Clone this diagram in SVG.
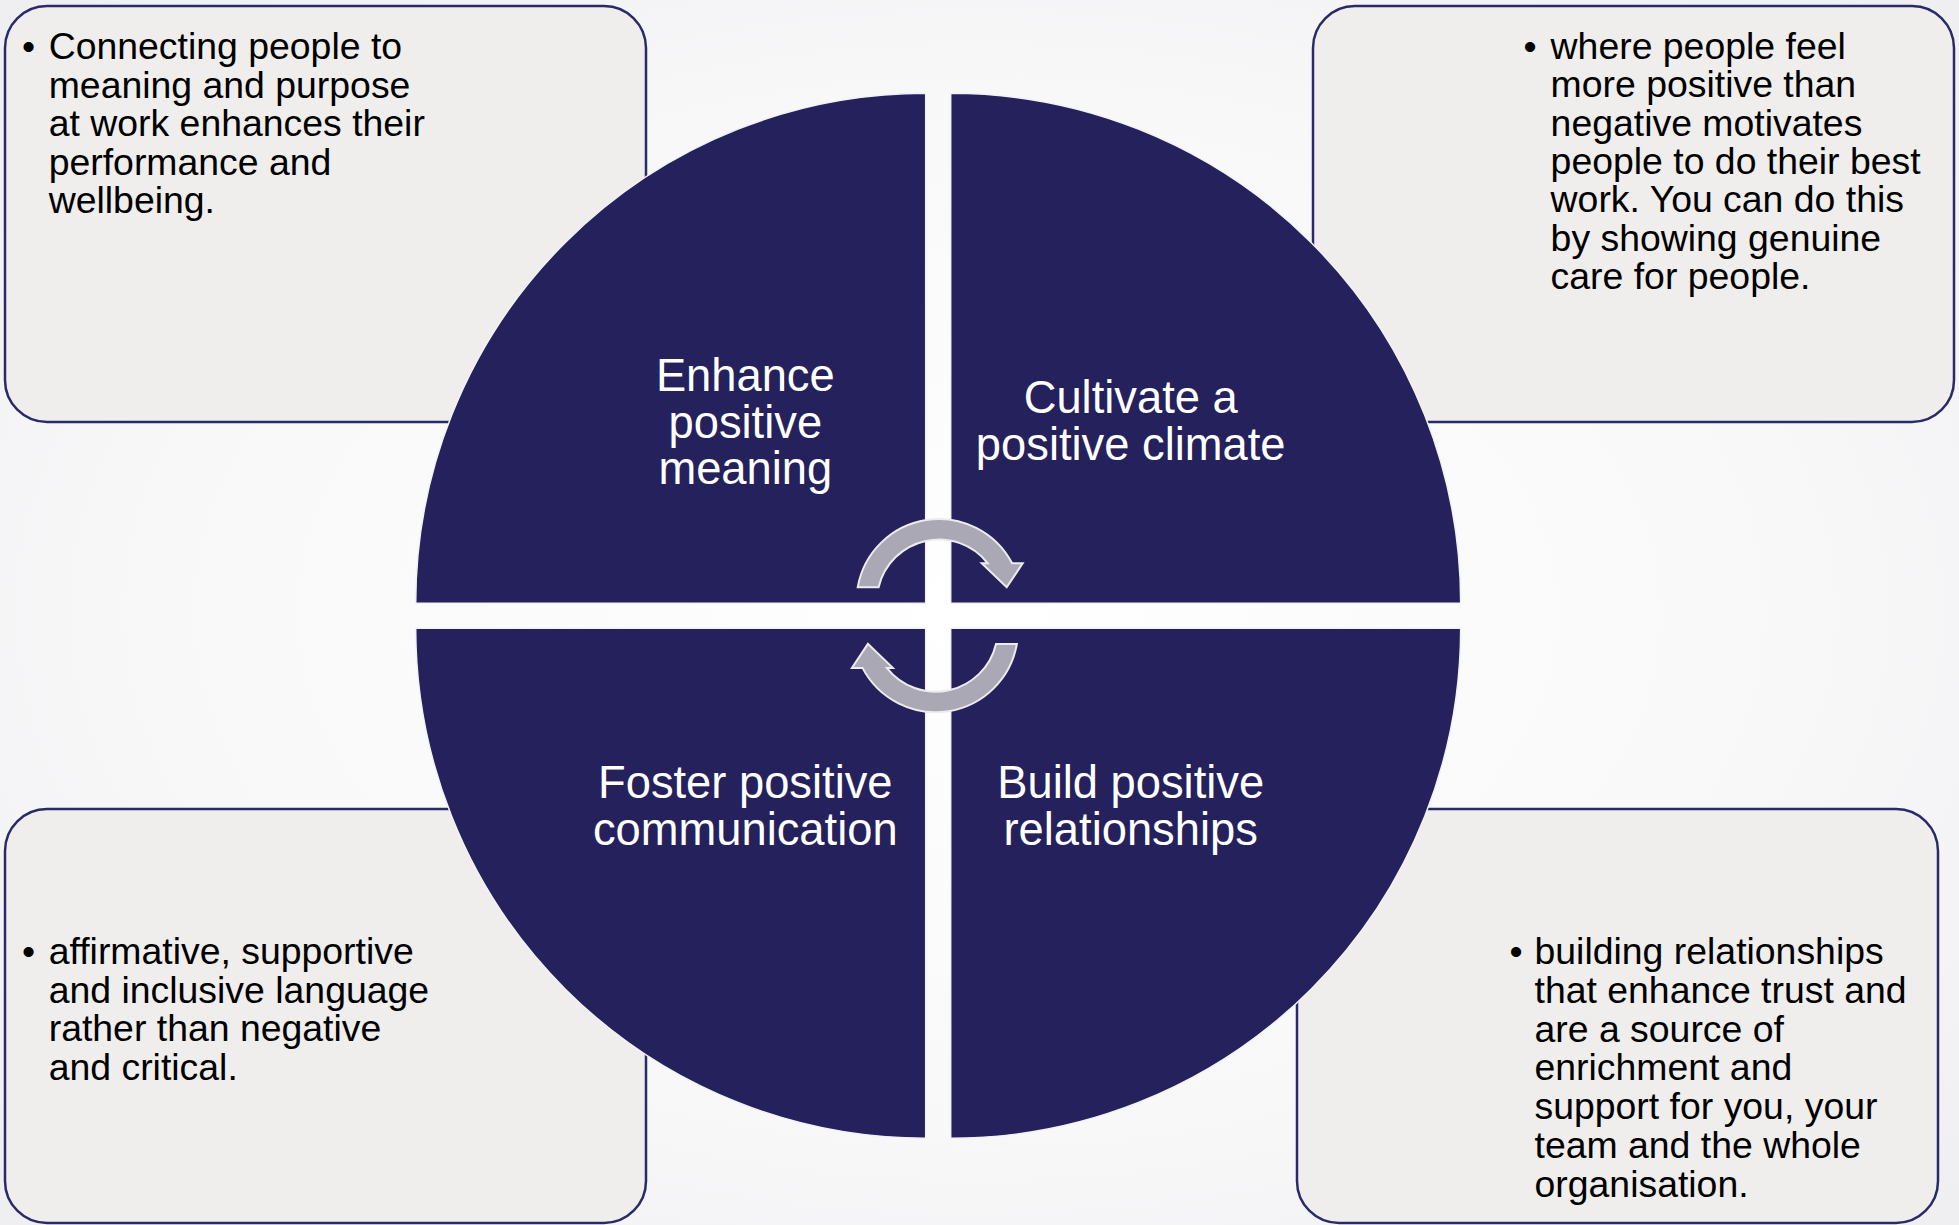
<svg xmlns="http://www.w3.org/2000/svg" width="1959" height="1225" viewBox="0 0 1959 1225">
  <defs>
    <radialGradient id="bg" cx="50%" cy="50%" r="70%">
      <stop offset="0" stop-color="#ffffff"/>
      <stop offset="0.6" stop-color="#f8f8f9"/>
      <stop offset="1" stop-color="#efeff2"/>
    </radialGradient>
    <style>
      .box { fill: #efeeec; stroke: #2b2a68; stroke-width: 2.5; }
      .quad { fill: #25215d; stroke: #f2f2f6; stroke-width: 1.5; }
      .arrow { fill: #a9a8b4; stroke: #ececef; stroke-width: 2; stroke-linejoin: miter; }
      .body { font-family: "Liberation Sans", Arial, sans-serif; font-size: 37.4px; fill: #000000; }
      .label { font-family: "Liberation Sans", Arial, sans-serif; font-size: 45.3px; fill: #ffffff; text-anchor: middle; }
    </style>
  </defs>

  <rect width="1959" height="1225" fill="url(#bg)"/>

  <!-- description boxes (sit behind the circle) -->
  <g id="box-meaning">
    <rect class="box" x="5" y="6" width="641" height="416" rx="42" ry="42"/>
    <text class="body">
      <tspan x="22" y="59.3">•</tspan>
      <tspan x="48.7" y="59.3">Connecting people to</tspan>
      <tspan x="48.7" y="97.7">meaning and purpose</tspan>
      <tspan x="48.7" y="136.1">at work enhances their</tspan>
      <tspan x="48.7" y="174.5">performance and</tspan>
      <tspan x="48.7" y="212.9">wellbeing.</tspan>
    </text>
  </g>

  <g id="box-climate">
    <rect class="box" x="1313" y="6" width="641" height="416" rx="42" ry="42"/>
    <text class="body">
      <tspan x="1523.5" y="58.8">•</tspan>
      <tspan x="1550.6" y="58.8">where people feel</tspan>
      <tspan x="1550.6" y="97.2">more positive than</tspan>
      <tspan x="1550.6" y="135.6">negative motivates</tspan>
      <tspan x="1550.6" y="174">people to do their best</tspan>
      <tspan x="1550.6" y="212.4">work. You can do this</tspan>
      <tspan x="1550.6" y="250.8">by showing genuine</tspan>
      <tspan x="1550.6" y="289.2">care for people.</tspan>
    </text>
  </g>

  <g id="box-communication">
    <rect class="box" x="5" y="809" width="641" height="414" rx="42" ry="42"/>
    <text class="body">
      <tspan x="22" y="964.3">•</tspan>
      <tspan x="48.7" y="964.3">affirmative, supportive</tspan>
      <tspan x="48.7" y="1002.7">and inclusive language</tspan>
      <tspan x="48.7" y="1041.1">rather than negative</tspan>
      <tspan x="48.7" y="1079.5">and critical.</tspan>
    </text>
  </g>

  <g id="box-relationships">
    <rect class="box" x="1297" y="809" width="641" height="414" rx="42" ry="42"/>
    <text class="body">
      <tspan x="1509.5" y="964.3">•</tspan>
      <tspan x="1534.5" y="964.3">building relationships</tspan>
      <tspan x="1534.5" y="1003">that enhance trust and</tspan>
      <tspan x="1534.5" y="1041.7">are a source of</tspan>
      <tspan x="1534.5" y="1080.4">enrichment and</tspan>
      <tspan x="1534.5" y="1119.1">support for you, your</tspan>
      <tspan x="1534.5" y="1157.8">team and the whole</tspan>
      <tspan x="1534.5" y="1196.5">organisation.</tspan>
    </text>
  </g>

  <!-- four quarter-circle segments; label lines are separate centred texts -->
  <g id="quad-meaning">
    <path class="quad" d="M925.7 603.3 L415.7 603.3 A510 510 0 0 1 925.7 93.3 Z"/>
    <text class="label" x="745.3" y="391">Enhance</text>
    <text class="label" x="745.3" y="437.5">positive</text>
    <text class="label" x="745.3" y="484">meaning</text>
  </g>

  <g id="quad-climate">
    <path class="quad" d="M950.7 603.3 L950.7 93.3 A510 510 0 0 1 1460.7 603.3 Z"/>
    <text class="label" x="1130.7" y="413.3">Cultivate a</text>
    <text class="label" x="1130.7" y="459.8">positive climate</text>
  </g>

  <g id="quad-communication">
    <path class="quad" d="M925.7 628.3 L925.7 1138.3 A510 510 0 0 1 415.7 628.3 Z"/>
    <text class="label" x="745.3" y="798.3">Foster positive</text>
    <text class="label" x="745.3" y="845">communication</text>
  </g>

  <g id="quad-relationships">
    <path class="quad" d="M950.7 628.3 L1460.7 628.3 A510 510 0 0 1 950.7 1138.3 Z"/>
    <text class="label" x="1130.7" y="798.3">Build positive</text>
    <text class="label" x="1130.7" y="845">relationships</text>
  </g>

  <!-- cycle arrows at the centre -->
  <g id="connectors">
    <path id="cycle-top" class="arrow" d="M857.7 587.3 A82.5 82.5 0 0 1 1012.1 563.3 L1022.7 563.3 L1006.7 587.3 L981.7 563.3 L987.8 563.3 A62 62 0 0 0 878.6 587.3 Z"/>
    <path id="cycle-bottom" class="arrow" transform="rotate(180 937.3 615.6)" d="M857.7 587.3 A82.5 82.5 0 0 1 1012.1 563.3 L1022.7 563.3 L1006.7 587.3 L981.7 563.3 L987.8 563.3 A62 62 0 0 0 878.6 587.3 Z"/>
  </g>
</svg>
